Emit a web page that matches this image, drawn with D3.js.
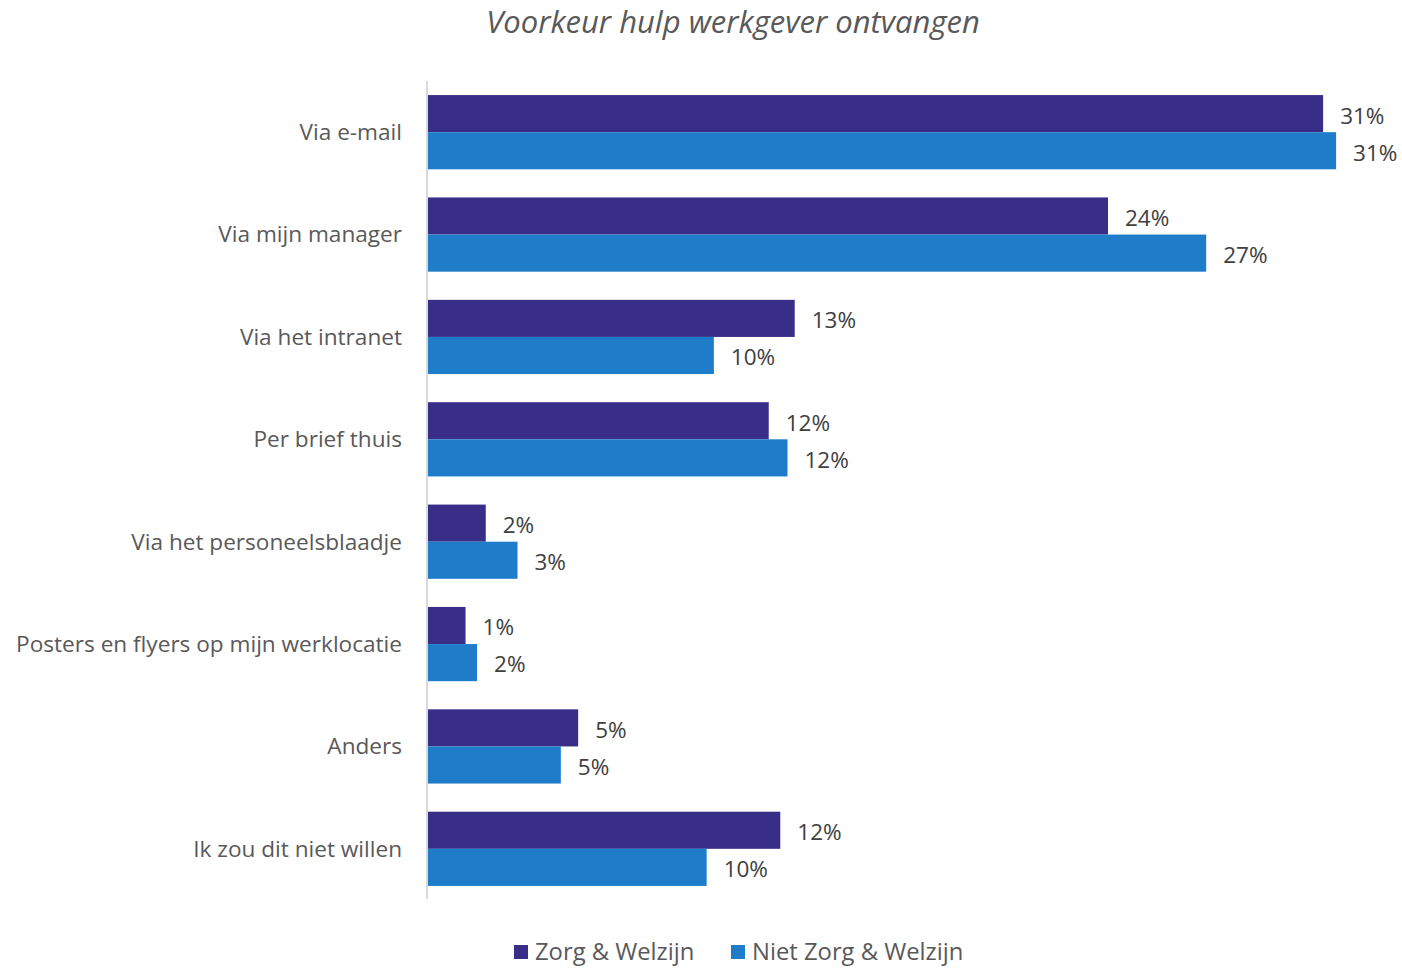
<!DOCTYPE html>
<html>
<head>
<meta charset="utf-8">
<script src="https://cdn.jsdelivr.net/npm/d3@7"></script>
<style>
  body { margin: 0; background: #fff; }
  svg { font-family: "Open Sans", "Noto Sans", sans-serif; }
</style>
</head>
<body>
<svg></svg>
<script>
const width = 1402
const height = 969

const categories = [
  "Via e-mail",
  "Via mijn manager",
  "Via het intranet",
  "Per brief thuis",
  "Via het personeelsblaadje",
  "Posters en flyers op mijn werklocatie",
  "Anders",
  "Ik zou dit niet willen"
]
const seriesNames = ["Zorg & Welzijn", "Niet Zorg & Welzijn"]
const zorg = [0.310, 0.2355, 0.127, 0.118, 0.020, 0.013, 0.052, 0.122]
const nietZorg = [0.3145, 0.2695, 0.099, 0.1245, 0.031, 0.017, 0.046, 0.0965]
const colors = ["#382e88", "#1e7cc9"]

const svg = d3.select("svg")
  .attr("width", width)
  .attr("height", height)

const x = d3.scaleLinear().domain([0, 0.32]).range([428, 1352])
const y = d3.scaleBand().domain(categories).range([81, 900]).paddingInner(0.275).paddingOuter(0.1375)
const y1 = d3.scaleBand().domain([0, 1]).range([0, y.bandwidth()])
const fmt = d3.format(".0%")

// title
svg.append("text")
  .attr("x", 733)
  .attr("y", 33)
  .attr("text-anchor", "middle")
  .style("font-size", "31px")
  .style("font-style", "italic")
  .style("fill", "#595959")
  .text("Voorkeur hulp werkgever ontvangen")

// category labels
svg.append("g")
  .selectAll("text")
  .data(categories)
  .enter()
  .append("text")
  .attr("x", 402)
  .attr("y", d => y(d) + y.bandwidth() / 2)
  .attr("dy", "0.35em")
  .attr("text-anchor", "end")
  .style("font-size", "22.6px")
  .style("fill", "#595959")
  .text(d => d)

const series = [zorg, nietZorg]

series.forEach(function(vals, s) {
  const g = svg.append("g")
  g.selectAll("rect")
    .data(vals)
    .enter()
    .append("rect")
    .attr("x", x(0))
    .attr("y", (d, i) => y(categories[i]) + y1(s))
    .attr("width", d => x(d) - x(0))
    .attr("height", y1.bandwidth())
    .attr("fill", colors[s])

  g.selectAll("text")
    .data(vals)
    .enter()
    .append("text")
    .attr("x", d => x(d) + 17)
    .attr("y", (d, i) => y(categories[i]) + y1(s) + y1.bandwidth() / 2 + 2)
    .attr("dy", "0.35em")
    .style("font-size", "22.5px")
    .style("fill", "#404040")
    .text(d => fmt(d))
})

// vertical axis line
svg.append("line")
  .attr("x1", 427).attr("x2", 427)
  .attr("y1", 81).attr("y2", 899)
  .style("stroke", "#d9d9d9")
  .attr("stroke-width", 2)

// legend
const legendX = [514, 731]
const legend = svg.append("g")
  .selectAll("g")
  .data(seriesNames)
  .enter()
  .append("g")
  .attr("transform", (d, i) => "translate(" + legendX[i] + ",945)")

legend.append("rect")
  .attr("width", 14)
  .attr("height", 14)
  .attr("fill", (d, i) => colors[i])

legend.append("text")
  .attr("x", 21)
  .attr("y", 7)
  .attr("dy", "0.35em")
  .style("font-size", "23.8px")
  .style("fill", "#595959")
  .text(d => d)
</script>
</body>
</html>
